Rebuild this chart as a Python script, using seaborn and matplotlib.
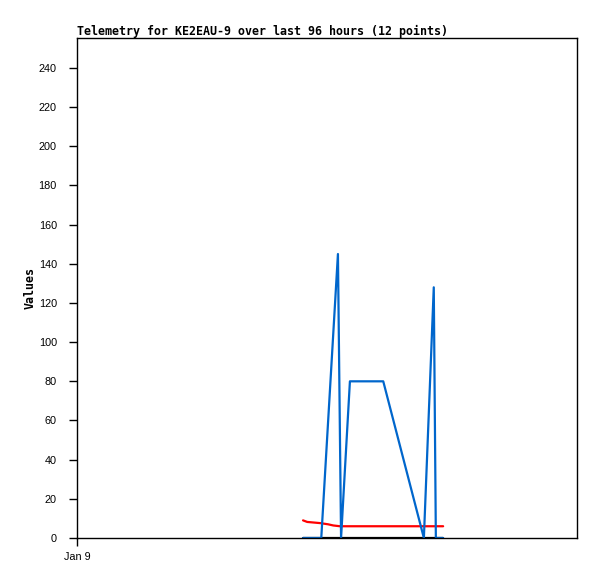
import matplotlib
matplotlib.use("Agg")
import matplotlib.pyplot as plt
import pandas as pd
import seaborn as sns

# hours since start of window (Jan 9 00:00)
blue_hours = [43.4, 46.9, 50.1, 50.7, 52.4, 58.8, 66.6, 68.5, 68.9, 70.3]
blue_vals = [0, 0, 145, 0, 80, 80, 0, 128, 0, 0]
red_hours = [43.4, 44.2, 46.7, 48.2, 49.2, 50.5, 70.3]
red_vals = [9.0, 8.2, 7.6, 7.0, 6.4, 6.0, 6.0]
black_hours = [43.4, 70.3]
black_vals = [0, 0]

x_ticks = [0]
x_labels = ["Jan 9"]
y_ticks = list(range(0, 241, 20))

df = pd.concat([
    pd.DataFrame({"hours": black_hours, "value": black_vals, "series": "c"}),
    pd.DataFrame({"hours": red_hours, "value": red_vals, "series": "b"}),
    pd.DataFrame({"hours": blue_hours, "value": blue_vals, "series": "a"}),
])

sns.set_style("white")
plt.rcParams["text.color"] = "black"
plt.rcParams["axes.labelcolor"] = "black"
fig = plt.figure(figsize=(5.97, 5.79), dpi=100)
ax = fig.add_axes([77 / 597, 41 / 579, 500 / 597, 500 / 579])

palette = {"a": "#0066cc", "b": "#ff0000", "c": "#000000"}
for name in ["c", "b", "a"]:
    sns.lineplot(data=df[df.series == name], x="hours", y="value", color=palette[name],
                 linewidth=1.6, sort=False, estimator=None, ax=ax, legend=False)

ax.set_xlim(0, 96)
ax.set_ylim(0, 255.3)
ax.set_yticks(y_ticks)
ax.set_xticks(x_ticks)
ax.set_xticklabels(x_labels)
ax.tick_params(axis="both", direction="out", length=5.5, width=1,
               colors="black", left=True, bottom=True)
ax.tick_params(axis="y", pad=9)
ax.tick_params(axis="x", pad=4.5)
for lab in ax.get_xticklabels() + ax.get_yticklabels():
    lab.set_family("Liberation Sans")
    lab.set_fontsize(7.8)
for s in ax.spines.values():
    s.set_color("black")
    s.set_linewidth(1)

ax.set_xlabel("")
ax.set_ylabel("Values", family="DejaVu Sans Mono", fontweight="bold", fontsize=8.4,
              labelpad=1.5, color="black")
ax.set_title("Telemetry for KE2EAU-9 over last 96 hours (12 points)", loc="left",
             family="DejaVu Sans Mono", fontweight="bold", fontsize=8.4, pad=2, color="black")

fig.savefig("out.png", dpi=100)
